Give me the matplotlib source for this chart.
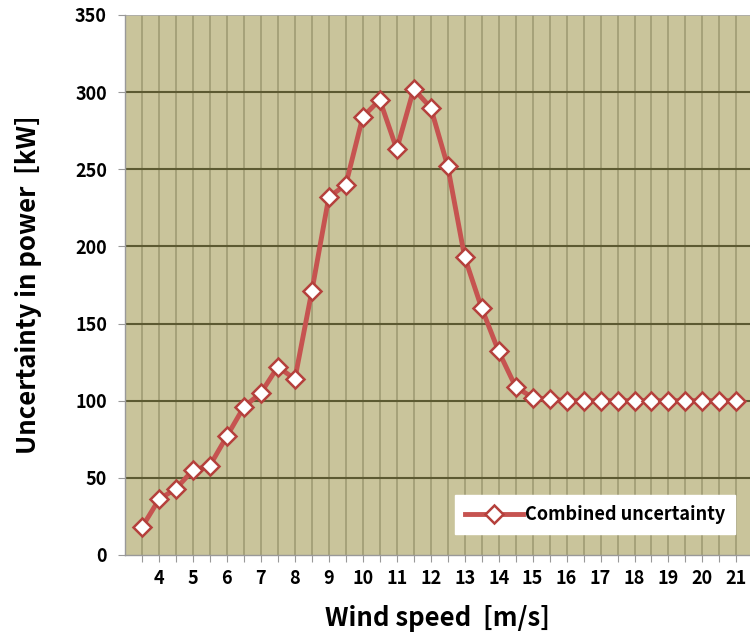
import matplotlib
matplotlib.use("Agg")
import matplotlib.pyplot as plt
import numpy as np

wind_speed = [3.5, 4, 4.5, 5, 5.5, 6, 6.5, 7, 7.5, 8, 8.5, 9, 9.5, 10, 10.5, 11, 11.5, 12,
              12.5, 13, 13.5, 14, 14.5, 15, 15.5, 16, 16.5, 17, 17.5, 18, 18.5, 19, 19.5, 20, 20.5, 21]
uncertainty = [18, 36, 43, 55, 58, 77, 96, 105, 122, 114, 171, 232, 240, 284, 295, 263, 302, 290,
               252, 193, 160, 132, 109, 102, 101, 100, 100, 100, 100, 100, 100, 100, 100, 100, 100, 100]
y_ticks = [0, 50, 100, 150, 200, 250, 300, 350]

plt.rcParams['font.family'] = ['Noto Sans CJK KR', 'DejaVu Sans']

fig = plt.figure(figsize=(7.5, 6.42), dpi=100)
ax = fig.add_axes([125/750, 1-555/642, 1-125/750, (555-15)/642])
ax.set_facecolor('#C9C49B')

x = np.arange(len(wind_speed))
ax.set_xlim(-1, 35.8)
ax.set_ylim(0, 350)

# grid
for xi in x:
    ax.axvline(xi, color='#A09C74', lw=1.2, zorder=1)
for yt in y_ticks[1:-1]:
    ax.axhline(yt, color='#5C5A32', lw=1.5, zorder=1.5)
ax.axhline(350, color='#AAAAAA', lw=1.2, zorder=1.5)

ax.plot(x, uncertainty, color='#C65350', lw=3.5, marker='D', markersize=9,
        markerfacecolor='white', markeredgecolor='#B5403C', markeredgewidth=1.8,
        zorder=3, label='Combined uncertainty')

ax.set_yticks(y_ticks)
ax.set_yticklabels([str(v) for v in y_ticks], fontsize=13, fontweight='bold')
ax.set_xticks(x)
labels = [str(int(w)) if float(w).is_integer() else '' for w in wind_speed]
ax.set_xticklabels(labels, fontsize=13, fontweight='bold')
ax.tick_params(axis='x', length=5, color='#999999', pad=5)
ax.tick_params(axis='y', length=5, color='#999999', pad=8)

for s in ['top', 'right']:
    ax.spines[s].set_visible(False)
for s in ['left', 'bottom']:
    ax.spines[s].set_color('#999999')
    ax.spines[s].set_linewidth(1.0)

ax.set_ylabel('Uncertainty in power  [kW]', fontsize=18.5, fontweight='bold', labelpad=24)
ax.set_xlabel('Wind speed  [m/s]', fontsize=18.5, fontweight='bold', labelpad=12)

leg = ax.legend(loc='lower right', bbox_to_anchor=(0.99, 0.022), frameon=True,
                fancybox=False, framealpha=1, edgecolor='white', handlelength=3.2,
                handletextpad=0.1, borderpad=0.55,
                prop={'size': 13, 'weight': 'bold'})

fig.savefig('out.png', dpi=100)
